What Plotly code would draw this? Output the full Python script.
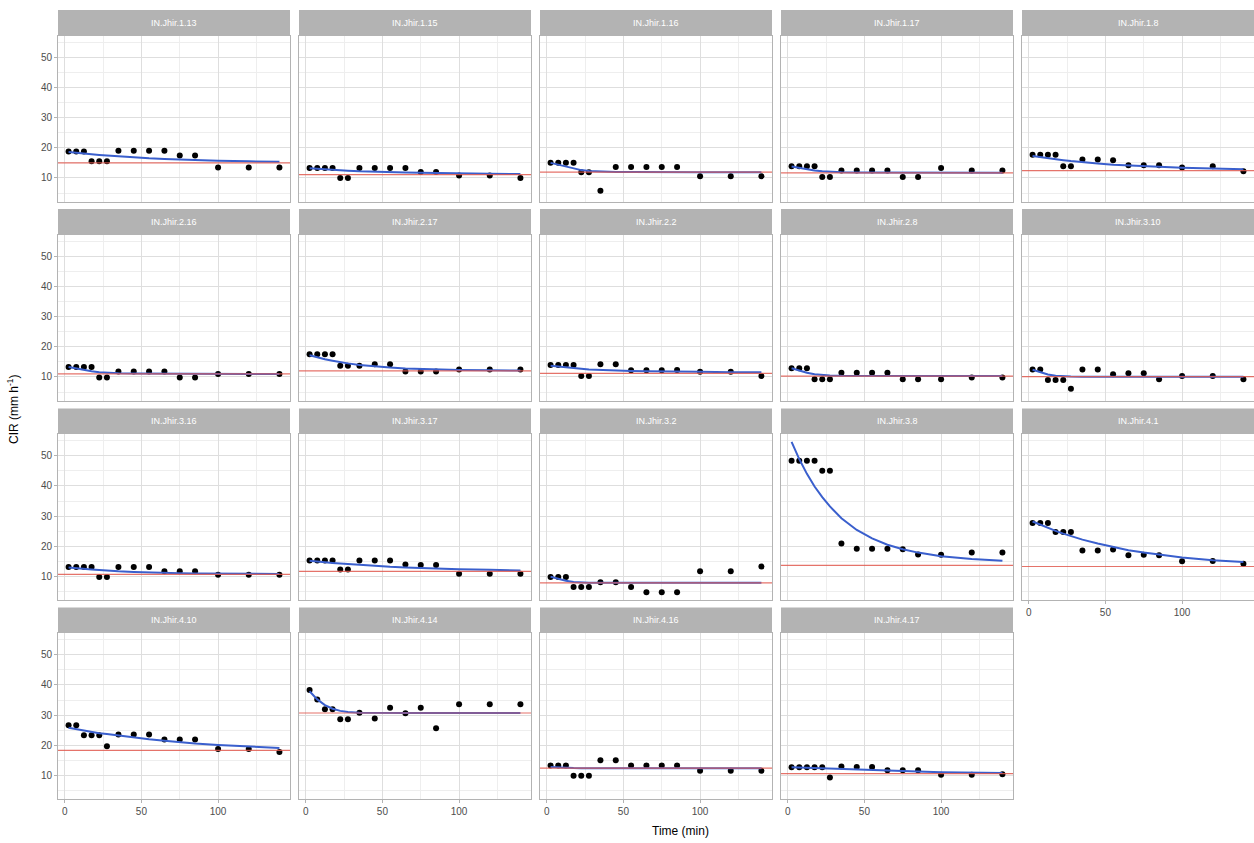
import plotly.graph_objects as go

# ---------------- data ----------------
time_min = [2.5, 7.5, 12.5, 17.5, 22.5, 27.5, 35, 45, 55, 65, 75, 85, 100, 120, 140]

panel_names = ["IN.Jhir.1.13", "IN.Jhir.1.15", "IN.Jhir.1.16", "IN.Jhir.1.17", "IN.Jhir.1.8",
               "IN.Jhir.2.16", "IN.Jhir.2.17", "IN.Jhir.2.2", "IN.Jhir.2.8", "IN.Jhir.3.10",
               "IN.Jhir.3.16", "IN.Jhir.3.17", "IN.Jhir.3.2", "IN.Jhir.3.8", "IN.Jhir.4.1",
               "IN.Jhir.4.10", "IN.Jhir.4.14", "IN.Jhir.4.16", "IN.Jhir.4.17"]

# observed CIR
obs_1_13 = [18.8, 18.8, 18.8, 15.5, 15.5, 15.5, 19.0, 19.0, 19.0, 19.0, 17.4, 17.4, 13.5, 13.5, 13.5]
obs_1_15 = [13.3, 13.3, 13.3, 13.3, 10.0, 10.0, 13.3, 13.3, 13.3, 13.3, 12.0, 12.0, 10.8, 10.8, 10.0]
obs_1_16 = [15.0, 15.0, 15.0, 15.0, 11.9, 11.9, 5.8, 13.6, 13.6, 13.6, 13.6, 13.6, 10.6, 10.6, 10.6]
obs_1_17 = [13.9, 13.9, 13.9, 13.9, 10.3, 10.3, 12.5, 12.5, 12.5, 12.5, 10.3, 10.3, 13.3, 12.5, 12.5]
obs_1_8 = [17.7, 17.7, 17.7, 17.7, 13.9, 13.9, 16.1, 16.1, 15.9, 14.2, 14.2, 14.2, 13.5, 13.9, 12.2]
obs_2_16 = [13.3, 13.3, 13.3, 13.3, 9.8, 9.8, 11.8, 11.8, 11.8, 11.8, 9.8, 9.8, 11.0, 11.0, 11.0]
obs_2_17 = [17.5, 17.5, 17.5, 17.5, 13.7, 13.7, 13.7, 14.2, 14.2, 11.8, 11.8, 11.8, 12.5, 12.5, 12.5]
obs_2_2 = [14.0, 14.0, 14.0, 14.0, 10.3, 10.3, 14.2, 14.2, 12.2, 12.2, 12.2, 12.3, 11.7, 11.7, 10.3]
obs_2_8 = [12.9, 12.9, 12.9, 9.2, 9.2, 9.2, 11.4, 11.4, 11.4, 11.4, 9.2, 9.2, 9.2, 9.8, 9.8]
obs_3_10 = [12.5, 12.5, 9.0, 9.0, 9.0, 6.1, 12.5, 12.5, 10.9, 11.2, 11.2, 9.2, 10.3, 10.3, 9.2]
obs_3_16 = [13.1, 13.1, 13.1, 13.1, 9.8, 9.8, 13.1, 13.1, 13.1, 11.7, 11.7, 11.7, 10.6, 10.6, 10.6]
obs_3_17 = [15.3, 15.3, 15.3, 15.3, 12.3, 12.3, 15.3, 15.3, 15.3, 14.0, 13.8, 13.8, 10.9, 10.9, 10.9]
obs_3_2 = [9.8, 9.8, 9.8, 6.5, 6.5, 6.5, 8.1, 8.1, 6.5, 4.8, 4.8, 4.8, 11.7, 11.7, 13.3]
obs_3_8 = [48.3, 48.3, 48.3, 48.3, 45.0, 45.0, 20.9, 19.2, 19.2, 19.2, 19.0, 17.3, 17.2, 17.9, 17.9]
obs_4_1 = [27.7, 27.7, 27.7, 24.7, 24.7, 24.7, 18.6, 18.6, 18.9, 17.0, 17.2, 17.0, 15.0, 15.1, 14.2]
obs_4_10 = [26.6, 26.6, 23.3, 23.3, 23.3, 19.7, 23.6, 23.6, 23.6, 21.9, 21.9, 21.9, 18.8, 18.8, 17.8]
obs_4_14 = [38.3, 35.2, 31.9, 31.9, 28.6, 28.6, 30.8, 28.9, 32.4, 30.6, 32.4, 25.6, 33.6, 33.6, 33.6]
obs_4_16 = [13.3, 13.3, 13.3, 9.9, 9.9, 9.9, 15.0, 15.0, 13.3, 13.3, 13.3, 13.3, 11.6, 11.6, 11.6]
obs_4_17 = [12.7, 12.7, 12.7, 12.7, 12.7, 9.3, 13.0, 12.8, 12.8, 11.7, 11.7, 11.7, 10.2, 10.2, 10.4]

# fitted CIR (blue curves)
fit_1_13 = [18.6, 18.3, 18.0, 17.8, 17.6, 17.4, 17.1, 16.8, 16.5, 16.3, 16.1, 15.9, 15.7, 15.5, 15.4]
fit_1_15 = [13.2, 13.0, 12.8, 12.6, 12.5, 12.4, 12.2, 12.0, 11.9, 11.8, 11.7, 11.6, 11.5, 11.4, 11.3]
fit_1_16 = [15.0, 14.4, 13.7, 13.1, 12.6, 12.3, 12.1, 12.0, 11.95, 11.9, 11.9, 11.9, 11.9, 11.9, 11.9]
fit_1_17 = [13.8, 13.3, 12.8, 12.5, 12.2, 12.0, 11.9, 11.8, 11.8, 11.75, 11.7, 11.7, 11.7, 11.7, 11.7]
fit_1_8 = [17.3, 16.9, 16.5, 16.2, 15.9, 15.6, 15.2, 14.8, 14.4, 14.1, 13.9, 13.7, 13.4, 13.1, 12.9]
fit_2_16 = [13.3, 12.8, 12.3, 11.9, 11.6, 11.4, 11.25, 11.15, 11.1, 11.05, 11.0, 11.0, 11.0, 11.0, 11.0]
fit_2_17 = [17.2, 16.5, 15.9, 15.4, 14.9, 14.5, 14.0, 13.5, 13.1, 12.8, 12.6, 12.4, 12.3, 12.2, 12.1]
fit_2_2 = [13.7, 13.4, 13.1, 12.9, 12.7, 12.5, 12.3, 12.1, 12.0, 11.9, 11.8, 11.75, 11.7, 11.6, 11.6]
fit_2_8 = [12.9, 12.1, 11.4, 10.9, 10.6, 10.5, 10.4, 10.35, 10.3, 10.3, 10.3, 10.3, 10.3, 10.3, 10.3]
fit_3_10 = [12.4, 11.5, 10.8, 10.4, 10.2, 10.15, 10.1, 10.1, 10.1, 10.1, 10.1, 10.1, 10.1, 10.1, 10.1]
fit_3_16 = [13.0, 12.7, 12.5, 12.3, 12.1, 11.9, 11.7, 11.5, 11.3, 11.2, 11.1, 11.0, 10.9, 10.85, 10.8]
fit_3_17 = [15.2, 14.9, 14.7, 14.5, 14.3, 14.1, 13.8, 13.5, 13.2, 13.0, 12.8, 12.6, 12.4, 12.2, 12.0]
fit_3_2 = [9.9, 9.2, 8.6, 8.2, 8.0, 7.95, 7.9, 7.9, 7.9, 7.9, 7.9, 7.9, 7.9, 7.9, 7.9]
fit_3_8 = [54.6, 48.9, 44.0, 39.8, 36.3, 33.2, 29.3, 25.4, 22.6, 20.5, 19.0, 17.9, 16.7, 15.8, 15.2]
fit_4_1 = [28.2, 27.1, 26.1, 25.1, 24.2, 23.4, 22.2, 20.9, 19.7, 18.7, 17.9, 17.2, 16.3, 15.4, 14.8]
fit_4_10 = [25.8, 25.3, 24.8, 24.4, 24.0, 23.7, 23.2, 22.6, 22.0, 21.5, 21.0, 20.6, 20.1, 19.5, 19.1]
fit_4_14 = [37.9, 35.2, 33.3, 32.1, 31.4, 31.0, 30.8, 30.7, 30.7, 30.7, 30.7, 30.7, 30.7, 30.7, 30.7]
fit_4_16 = [12.8, 12.6, 12.5, 12.45, 12.4, 12.4, 12.4, 12.4, 12.4, 12.4, 12.4, 12.4, 12.4, 12.4, 12.4]
fit_4_17 = [12.7, 12.6, 12.5, 12.4, 12.3, 12.2, 12.1, 11.9, 11.7, 11.6, 11.4, 11.3, 11.1, 10.9, 10.8]

# final (steady) infiltration rate (red lines)
final_rate = [15.0, 11.1, 11.9, 11.7, 12.4,
              11.0, 12.0, 11.2, 10.3, 10.1,
              10.7, 11.7, 7.9, 13.7, 13.3,
              18.3, 30.7, 12.4, 10.6]

observed = [obs_1_13, obs_1_15, obs_1_16, obs_1_17, obs_1_8,
            obs_2_16, obs_2_17, obs_2_2, obs_2_8, obs_3_10,
            obs_3_16, obs_3_17, obs_3_2, obs_3_8, obs_4_1,
            obs_4_10, obs_4_14, obs_4_16, obs_4_17]
fitted = [fit_1_13, fit_1_15, fit_1_16, fit_1_17, fit_1_8,
          fit_2_16, fit_2_17, fit_2_2, fit_2_8, fit_3_10,
          fit_3_16, fit_3_17, fit_3_2, fit_3_8, fit_4_1,
          fit_4_10, fit_4_14, fit_4_16, fit_4_17]

x_ticks = [0, 50, 100]
y_ticks = [10, 20, 30, 40, 50]

# ---------------- layout geometry (pixels) ----------------
W, H = 1254, 843
col_left = [58, 299, 540, 781, 1022]
panel_w = 232
strip_top = [10, 209, 408.5, 607.5]
strip_h = 25.5
panel_h = 166
ncols = 5
n = len(panel_names)

X_RANGE = [-4.4, 146.9]
Y_RANGE = [2.2, 57.2]

GRID = "#DEDEDE"
MINOR = "#EEEEEE"
BORDER = "#B3B3B3"
TXT = "#4D4D4D"
FONT = "Liberation Sans, Arial, sans-serif"


def px_x(v):
    return v / W


def px_y(v):
    return 1 - v / H


fig = go.Figure()
layout = {}
shapes = []
annotations = []

for i, name in enumerate(panel_names):
    r, c = divmod(i, ncols)
    k = "" if i == 0 else str(i + 1)
    xl = col_left[c]
    xr = xl + panel_w
    st = strip_top[r]
    pt = st + strip_h
    pb = pt + panel_h

    # bottom-most panel in its column shows x labels
    below = i + ncols
    show_x = below >= n
    show_y = c == 0

    layout["xaxis" + k] = dict(
        domain=[px_x(xl), px_x(xr)], anchor="y" + k, range=X_RANGE,
        tickvals=x_ticks, showticklabels=show_x,
        ticks="outside" if show_x else "", ticklen=3, tickcolor=BORDER, tickwidth=1,
        tickfont=dict(size=10, color=TXT, family=FONT),
        showgrid=True, gridcolor=GRID, gridwidth=1,
        minor=dict(tickvals=[25, 75, 125], showgrid=True, gridcolor=MINOR, gridwidth=0.6, ticks=""),
        showline=True, mirror=True, linecolor=BORDER, linewidth=1,
        zeroline=False, fixedrange=True,
    )
    layout["yaxis" + k] = dict(
        domain=[px_y(pb), px_y(pt)], anchor="x" + k, range=Y_RANGE,
        tickvals=y_ticks, showticklabels=show_y,
        ticks="outside" if show_y else "", ticklen=3, tickcolor=BORDER, tickwidth=1,
        tickfont=dict(size=10, color=TXT, family=FONT),
        showgrid=True, gridcolor=GRID, gridwidth=1,
        minor=dict(tickvals=[5, 15, 25, 35, 45, 55], showgrid=True, gridcolor=MINOR, gridwidth=0.6, ticks=""),
        showline=True, mirror=True, linecolor=BORDER, linewidth=1,
        zeroline=False, fixedrange=True,
    )

    # strip
    shapes.append(dict(type="rect", xref="paper", yref="paper",
                       x0=px_x(xl), x1=px_x(xr), y0=px_y(pt), y1=px_y(st),
                       fillcolor=BORDER, line=dict(width=0), layer="above"))
    annotations.append(dict(text=name, xref="paper", yref="paper",
                            x=px_x((xl + xr) / 2), y=px_y(st + strip_h / 2),
                            xanchor="center", yanchor="middle", showarrow=False,
                            font=dict(size=9, color="white", family=FONT)))

    xa = "x" + k
    ya = "y" + k
    fig.add_trace(go.Scatter(x=time_min, y=observed[i], mode="markers",
                             marker=dict(color="black", size=6),
                             xaxis=xa, yaxis=ya, showlegend=False, hoverinfo="skip"))
    fig.add_trace(go.Scatter(x=time_min, y=fitted[i], mode="lines",
                             line=dict(color="#3A5FCD", width=2),
                             xaxis=xa, yaxis=ya, showlegend=False, hoverinfo="skip"))
    fig.add_trace(go.Scatter(x=X_RANGE, y=[final_rate[i], final_rate[i]], mode="lines",
                             line=dict(color="rgba(225,90,80,0.85)", width=1.2),
                             xaxis=xa, yaxis=ya, showlegend=False, hoverinfo="skip"))

# axis titles
annotations.append(dict(text="Time (min)", xref="paper", yref="paper",
                        x=px_x(680), y=px_y(831), xanchor="center", yanchor="middle",
                        showarrow=False, font=dict(size=12, color="black", family=FONT)))
annotations.append(dict(text="CIR (mm h<sup>-1</sup>)", xref="paper", yref="paper",
                        x=px_x(13), y=px_y(410), xanchor="center", yanchor="middle",
                        textangle=-90, showarrow=False,
                        font=dict(size=12, color="black", family=FONT)))

fig.update_layout(
    width=W, height=H, margin=dict(l=0, r=0, t=0, b=0),
    paper_bgcolor="white", plot_bgcolor="white",
    shapes=shapes, annotations=annotations, showlegend=False,
    **layout,
)

fig.write_html("out.html")
